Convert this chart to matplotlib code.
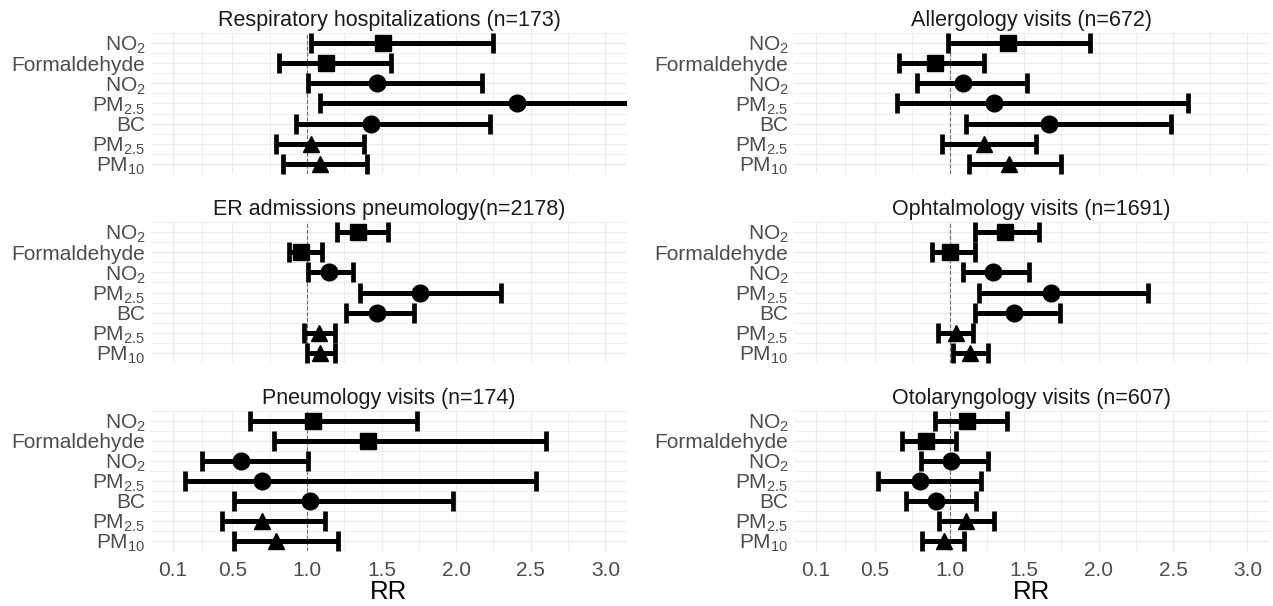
import matplotlib
matplotlib.use('Agg')
import matplotlib.pyplot as plt
import numpy as np

plt.rcParams['font.family'] = ['Liberation Sans', 'DejaVu Sans']
plt.rcParams['mathtext.fontset'] = 'custom'
plt.rcParams['mathtext.rm'] = 'Liberation Sans'
plt.rcParams['mathtext.it'] = 'Liberation Sans:italic'

# rows, top to bottom
pollutants = ['NO$_2$', 'Formaldehyde', 'NO$_2$', 'PM$_{2.5}$', 'BC', 'PM$_{2.5}$', 'PM$_{10}$']
shapes = ['s', 's', 'o', 'o', 'o', '^', '^']
xticks = [0.1, 0.5, 1.0, 1.5, 2.0, 2.5, 3.0]
xtick_labels = ['0.1', '0.5', '1.0', '1.5', '2.0', '2.5', '3.0']

titles = ['Respiratory hospitalizations (n=173)', 'Allergology visits (n=672)',
          'ER admissions pneumology(n=2178)', 'Ophtalmology visits (n=1691)',
          'Pneumology visits (n=174)', 'Otolaryngology visits (n=607)']

resp_rr = [1.51, 1.13, 1.47, 2.41, 1.43, 1.03, 1.09]
resp_lo = [1.025, 0.81, 1.01, 1.09, 0.93, 0.79, 0.84]
resp_hi = [2.25, 1.565, 2.175, 3.5, 2.23, 1.38, 1.40]

allergo_rr = [1.39, 0.90, 1.09, 1.30, 1.67, 1.23, 1.40]
allergo_lo = [0.99, 0.66, 0.78, 0.65, 1.11, 0.95, 1.13]
allergo_hi = [1.94, 1.23, 1.52, 2.60, 2.49, 1.58, 1.75]

er_rr = [1.34, 0.96, 1.15, 1.76, 1.47, 1.08, 1.09]
er_lo = [1.20, 0.88, 1.01, 1.355, 1.265, 0.98, 1.00]
er_hi = [1.54, 1.10, 1.31, 2.30, 1.72, 1.19, 1.19]

ophta_rr = [1.37, 1.005, 1.29, 1.68, 1.43, 1.04, 1.14]
ophta_lo = [1.17, 0.88, 1.09, 1.20, 1.17, 0.92, 1.02]
ophta_hi = [1.60, 1.17, 1.53, 2.33, 1.74, 1.16, 1.26]

pneumo_rr = [1.04, 1.41, 0.56, 0.70, 1.02, 0.70, 0.79]
pneumo_lo = [0.62, 0.78, 0.30, 0.185, 0.51, 0.43, 0.51]
pneumo_hi = [1.74, 2.60, 1.01, 2.535, 1.98, 1.12, 1.21]

oto_rr = [1.12, 0.84, 1.01, 0.80, 0.91, 1.11, 0.96]
oto_lo = [0.905, 0.68, 0.81, 0.52, 0.71, 0.93, 0.815]
oto_hi = [1.385, 1.04, 1.26, 1.21, 1.18, 1.30, 1.10]

panels = [(resp_rr, resp_lo, resp_hi), (allergo_rr, allergo_lo, allergo_hi),
          (er_rr, er_lo, er_hi), (ophta_rr, ophta_lo, ophta_hi),
          (pneumo_rr, pneumo_lo, pneumo_hi), (oto_rr, oto_lo, oto_hi)]

W, H = 1273, 606
col_x = [(151, 627), (794, 1269)]
row_y = [(33, 174), (222, 363), (411, 551)]


def draw_panel(ax, rr, lo, hi, title, bottom):
	rr, lo, hi = np.array(rr), np.array(lo), np.array(hi)
	ys = np.arange(len(rr), 0, -1)
	for i in range(len(rr)):
		ax.errorbar(rr[i], ys[i], xerr=[[rr[i] - lo[i]], [hi[i] - rr[i]]],
			fmt=shapes[i], color='black', ms=12, elinewidth=3.6,
			capsize=7.5, capthick=3.4, zorder=3)
	ax.axvline(1.0, color='#6f6f6f', ls='--', lw=0.8, zorder=2)
	ax.set_xlim(-0.045, 3.145)
	ax.set_ylim(0.5, 7.5)
	ax.set_yticks(ys)
	ax.set_yticklabels(pollutants)
	ax.set_yticks(np.arange(0.5, 8, 1.0), minor=True)
	ax.set_xticks(xticks)
	ax.set_xticks([0.3, 0.75, 1.25, 1.75, 2.25, 2.75], minor=True)
	if bottom:
		ax.set_xticklabels(xtick_labels)
		ax.set_xlabel('RR', fontsize=18.5, labelpad=0)
	else:
		ax.set_xticklabels([])
	ax.grid(which='major', color='#ebebeb', lw=1.0, zorder=0)
	ax.grid(which='minor', color='#ebebeb', lw=0.6, zorder=0)
	ax.set_axisbelow(True)
	ax.tick_params(which='both', length=0, labelsize=15, labelcolor='#4d4d4d')
	ax.tick_params(axis='y', pad=4)
	ax.tick_params(axis='x', pad=7)
	for s in ax.spines.values():
		s.set_visible(False)
	ax.set_title(title, fontsize=15.5, color='#1a1a1a', pad=5)


def main():
	fig = plt.figure(figsize=(W / 100, H / 100), dpi=100)
	for k in range(6):
		r, c = k // 2, k % 2
		x0, x1 = col_x[c]
		y0, y1 = row_y[r]
		ax = fig.add_axes([x0 / W, 1 - y1 / H, (x1 - x0) / W, (y1 - y0) / H])
		rr, lo, hi = panels[k]
		draw_panel(ax, rr, lo, hi, titles[k], r == 2)
	fig.savefig('out.png', dpi=100, facecolor='white')


if __name__ == "__main__":
	main()
